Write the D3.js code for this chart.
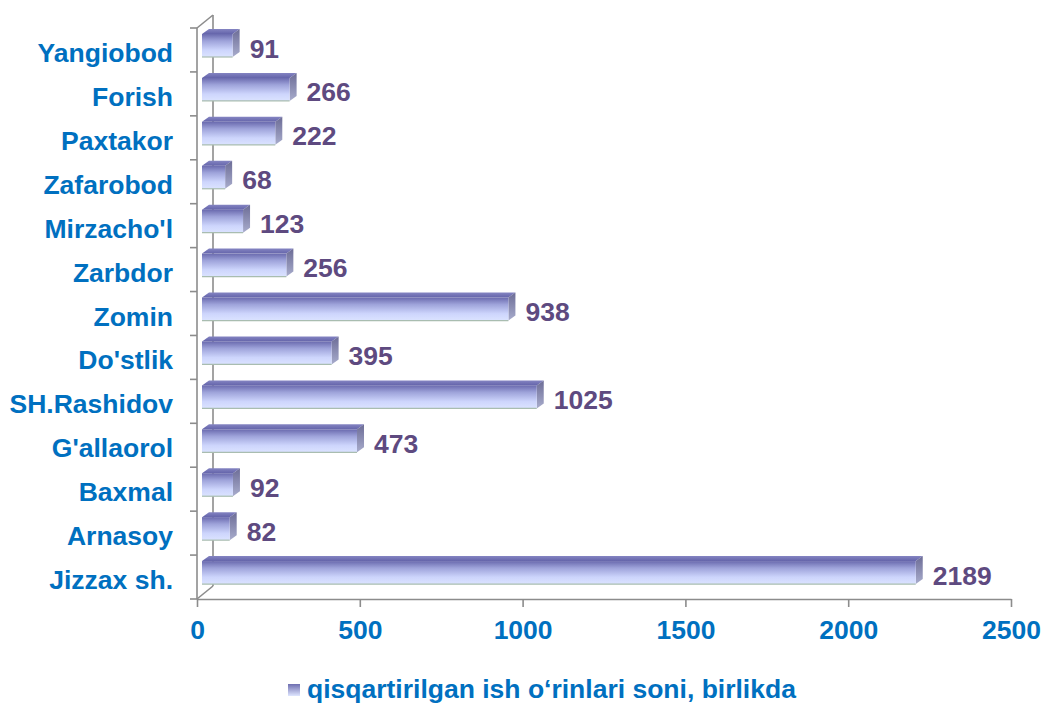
<!DOCTYPE html>
<html>
<head>
<meta charset="utf-8">
<script src="https://cdn.jsdelivr.net/npm/d3@7"></script>
<style>
  html, body { margin: 0; padding: 0; background: #ffffff; }
  svg { display: block; }
  text { font-family: "Liberation Sans", Arial, sans-serif; font-weight: bold; }
</style>
</head>
<body>
<svg id="chart" width="1043" height="705"></svg>
<script>
// ---- data ----
const categories = ["Yangiobod", "Forish", "Paxtakor", "Zafarobod", "Mirzacho'l", "Zarbdor", "Zomin", "Do'stlik", "SH.Rashidov", "G'allaorol", "Baxmal", "Arnasoy", "Jizzax sh."];
const values = [91, 266, 222, 68, 123, 256, 938, 395, 1025, 473, 92, 82, 2189];
const xTicks = [0, 500, 1000, 1500, 2000, 2500];
const seriesName = "qisqartirilgan ish o\u2018rinlari soni, birlikda";

const svg = d3.select("#chart");

const x = d3.scaleLinear().domain([0, 2500]).range([197, 1011]);
const y = d3.scaleBand().domain(categories).range([28, 599]).padding(0);

const defs = svg.append("defs");
const gFront = defs.append("linearGradient").attr("id", "gFront").attr("x1", 0).attr("y1", 0).attr("x2", 0).attr("y2", 1);
gFront.append("stop").attr("offset", "0%").attr("stop-color", "#6a6aae");
gFront.append("stop").attr("offset", "30%").attr("stop-color", "#9ea3da");
gFront.append("stop").attr("offset", "70%").attr("stop-color", "#cdd5fc");
gFront.append("stop").attr("offset", "100%").attr("stop-color", "#dbe3ff");
const gTop = defs.append("linearGradient").attr("id", "gTop").attr("x1", 0).attr("y1", 0).attr("x2", 0).attr("y2", 1);
gTop.append("stop").attr("offset", "0%").attr("stop-color", "#8484c2");
gTop.append("stop").attr("offset", "100%").attr("stop-color", "#6464aa");
const gSide = defs.append("linearGradient").attr("id", "gSide").attr("x1", 0).attr("y1", 0).attr("x2", 0).attr("y2", 1);
gSide.append("stop").attr("offset", "0%").attr("stop-color", "#6c6c96");
gSide.append("stop").attr("offset", "100%").attr("stop-color", "#a8accc");
const gLeg = defs.append("linearGradient").attr("id", "gLeg").attr("x1", 0).attr("y1", 0).attr("x2", 0).attr("y2", 1);
gLeg.append("stop").attr("offset", "0%").attr("stop-color", "#6e6eb0");
gLeg.append("stop").attr("offset", "100%").attr("stop-color", "#dfe6ff");

const axisColor = "#8c8c8c";
const wallDx = 16, wallDy = -13;

// walls / floor edges (3D frame)
const frame = svg.append("g").attr("stroke", axisColor).attr("stroke-width", 1.6).attr("fill", "none");
frame.append("line").attr("x1", x(0)).attr("y1", y.range()[0]).attr("x2", x(0) + wallDx).attr("y2", y.range()[0] + wallDy);
frame.append("line").attr("x1", x(0) + wallDx).attr("y1", y.range()[0] + wallDy).attr("x2", x(0) + wallDx).attr("y2", y.range()[1] + wallDy);
frame.append("line").attr("x1", x(0)).attr("y1", y.range()[1]).attr("x2", x(0) + wallDx).attr("y2", y.range()[1] + wallDy);

// bars
const dx = 7, dy = -5;
const barH = 23;
const bars = svg.append("g");
categories.forEach((c, i) => {
  const v = values[i];
  const x0 = x(0) + 5, x1 = x(v) + 6;
  const y0 = y(c) + 6;
  const g = bars.append("g");
  g.append("path")
    .attr("d", `M${x0},${y0}L${x0 + dx},${y0 + dy}L${x1 + dx},${y0 + dy}L${x1},${y0}Z`)
    .attr("fill", "url(#gTop)");
  g.append("path")
    .attr("d", `M${x1},${y0}L${x1 + dx},${y0 + dy}L${x1 + dx},${y0 + barH + dy}L${x1},${y0 + barH}Z`)
    .attr("fill", "url(#gSide)");
  g.append("rect")
    .attr("x", x0).attr("y", y0).attr("width", x1 - x0).attr("height", barH)
    .attr("fill", "url(#gFront)");
  g.append("line")
    .attr("x1", x0).attr("x2", x1).attr("y1", y0 + barH).attr("y2", y0 + barH)
    .attr("stroke", "#a9bdb0").attr("stroke-width", 1.2);
  g.append("text")
    .attr("x", x1 + dx + 10).attr("y", y0 + barH / 2 + 3)
    .attr("dominant-baseline", "central")
    .attr("fill", "#5e4a80").attr("font-size", 26.5)
    .text(v);
});

// y axis
const yAxisG = svg.append("g").attr("stroke", axisColor).attr("stroke-width", 1.6);
yAxisG.append("line").attr("x1", x(0)).attr("x2", x(0)).attr("y1", y.range()[0]).attr("y2", y.range()[1]);
categories.forEach(c => {
  yAxisG.append("line").attr("x1", x(0) - 7).attr("x2", x(0)).attr("y1", y(c)).attr("y2", y(c));
});
yAxisG.append("line").attr("x1", x(0) - 7).attr("x2", x(0)).attr("y1", y.range()[1]).attr("y2", y.range()[1]);

svg.append("g").selectAll("text").data(categories).join("text")
  .attr("x", 173).attr("y", d => y(d) + y.bandwidth() / 2 + 3)
  .attr("text-anchor", "end").attr("dominant-baseline", "central")
  .attr("fill", "#0070c0").attr("font-size", 26.5)
  .text(d => d);

// x axis
const xAxisG = svg.append("g").attr("transform", `translate(0,${y.range()[1]})`)
  .call(d3.axisBottom(x).tickValues(xTicks).tickFormat(d3.format("d")).tickSize(8).tickSizeOuter(0).tickPadding(13));
xAxisG.select(".domain").attr("stroke", axisColor).attr("stroke-width", 1.6);
xAxisG.selectAll(".tick line").attr("stroke", axisColor).attr("stroke-width", 1.6);
xAxisG.selectAll(".tick text")
  .attr("fill", "#0070c0").attr("font-size", 26.5)
  .attr("font-family", "'Liberation Sans', Arial, sans-serif").attr("font-weight", "bold");

// legend
const leg = svg.append("g");
leg.append("rect").attr("x", 288).attr("y", 684).attr("width", 12).attr("height", 12).attr("fill", "url(#gLeg)");
leg.append("text").attr("x", 307).attr("y", 689).attr("dominant-baseline", "central")
  .attr("fill", "#0070c0").attr("font-size", 26.5).text(seriesName);
</script>
</body>
</html>
